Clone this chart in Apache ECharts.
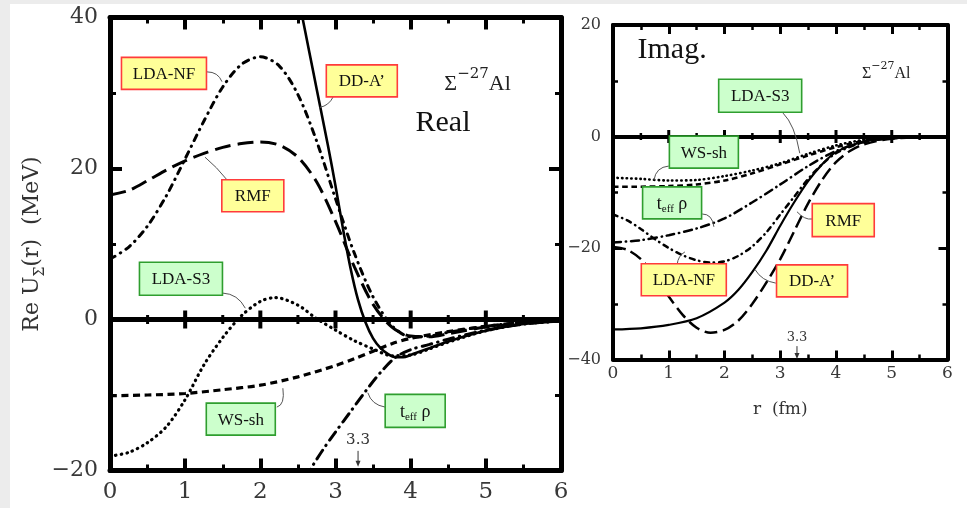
<!DOCTYPE html>
<html><head><meta charset="utf-8">
<script src="https://cdn.jsdelivr.net/npm/echarts@6/dist/echarts.min.js"></script>
<style>html,body{margin:0;padding:0;background:#fff}#c{width:967px;height:508px}</style>
</head><body><div id="c"></div>
<script>
// ---------- data ----------
const rTicks = [0, 1, 2, 3, 4, 5, 6];
const reYTicks = [-20, 0, 20, 40];
const imYTicks = [-40, -20, 0, 20];
const zeroMajor = [1, 2, 3, 4, 5];
const zeroMinor = [0.5, 1.5, 2.5, 3.5, 4.5, 5.5];

// Real part  [r (fm), Re U (MeV)]
const reLDANF = [[0,8.0],[0.25,9.6],[0.5,12.4],[0.75,16.4],[1.0,21.3],[1.25,26.3],[1.5,30.8],[1.75,33.8],[2.0,34.8],[2.25,33.6],[2.5,29.8],[2.75,23.6],[3.0,16.0],[3.25,8.8],[3.5,3.0],[3.75,-0.8],[4.0,-2.3],[4.25,-2.2],[4.5,-1.7],[5.0,-0.9],[5.5,-0.4],[6.0,-0.2]];
const reRMF = [[0,16.5],[0.25,17.1],[0.5,18.4],[0.75,19.8],[1.0,21.0],[1.25,22.0],[1.5,22.8],[1.75,23.3],[2.0,23.5],[2.25,23.1],[2.5,21.5],[2.75,18.2],[3.0,13.0],[3.25,7.0],[3.5,2.0],[3.75,-1.0],[4.0,-2.2],[4.25,-2.3],[4.5,-1.9],[5.0,-1.0],[5.5,-0.5],[6.0,-0.2]];
const reDDA = [[2.5,43.0],[2.6,38.0],[2.7,33.0],[2.8,28.0],[2.9,23.0],[3.0,17.7],[3.1,12.0],[3.2,6.8],[3.3,2.6],[3.4,-0.4],[3.5,-2.5],[3.6,-3.8],[3.7,-4.6],[3.8,-5.0],[3.9,-5.0],[4.0,-4.7],[4.25,-3.8],[4.5,-2.9],[5.0,-1.5],[5.5,-0.6],[6.0,-0.2]];
const reLDAS3 = [[0,-18.1],[0.25,-17.6],[0.5,-16.3],[0.75,-14.2],[1.0,-10.6],[1.25,-6.0],[1.5,-2.4],[1.75,0.5],[2.0,2.4],[2.2,2.9],[2.5,1.9],[2.75,0.1],[3.0,-1.4],[3.25,-2.8],[3.5,-3.9],[3.75,-4.8],[4.0,-4.7],[4.25,-3.9],[4.5,-3.0],[5.0,-1.5],[5.5,-0.6],[6.0,-0.2]];
const reWSsh = [[0,-10.1],[0.5,-10.0],[1.0,-9.8],[1.5,-9.3],[2.0,-8.7],[2.5,-7.6],[3.0,-6.1],[3.25,-5.2],[3.5,-4.2],[3.75,-3.2],[4.0,-2.5],[4.5,-1.6],[5.0,-0.9],[5.5,-0.4],[6.0,-0.2]];
const reTeff = [[2.6,-21.0],[2.7,-19.3],[2.85,-17.0],[3.0,-14.9],[3.2,-12.2],[3.4,-9.5],[3.6,-7.0],[3.8,-5.0],[4.0,-4.0],[4.25,-3.3],[4.5,-2.6],[5.0,-1.4],[5.5,-0.6],[6.0,-0.2]];

// Imaginary part  [r (fm), Im U (MeV)]
const imLDAS3 = [[0,-7.4],[0.5,-7.6],[1,-7.9],[1.5,-7.8],[2,-7.1],[2.5,-6.1],[3,-4.8],[3.5,-3.1],[4,-1.6],[4.5,-0.6],[5,-0.2],[6,0]];
const imWSsh = [[0,-9.0],[0.5,-9.0],[1,-8.9],[1.5,-8.6],[2,-7.9],[2.5,-6.6],[3,-5.0],[3.5,-3.4],[4,-1.9],[4.5,-0.8],[5,-0.3],[6,0]];
const imTeff = [[0,-19.0],[0.5,-18.6],[1,-17.7],[1.5,-16.5],[2,-14.7],[2.5,-11.8],[3,-8.6],[3.5,-5.3],[4,-2.6],[4.5,-1.0],[5,-0.3],[6,0]];
const imLDANF = [[0,-14.0],[0.25,-15.0],[0.5,-16.6],[0.75,-18.4],[1,-20.0],[1.25,-21.3],[1.5,-22.2],[1.75,-22.6],[2,-22.4],[2.25,-21.4],[2.5,-19.7],[2.75,-17.2],[3,-14.0],[3.25,-10.8],[3.5,-7.6],[3.75,-5.0],[4,-3.0],[4.5,-1.0],[5,-0.3],[6,0]];
const imDDA = [[0,-34.6],[0.5,-34.4],[1,-33.8],[1.5,-32.6],[2,-29.8],[2.25,-27.5],[2.5,-24.3],[2.75,-20.5],[3,-16.0],[3.25,-11.8],[3.5,-8.0],[3.75,-5.0],[4,-2.8],[4.5,-0.9],[5,-0.2],[6,0]];
const imRMF = [[0,-19.8],[0.25,-20.3],[0.5,-22.0],[0.75,-25.0],[1,-28.7],[1.25,-32.0],[1.5,-34.3],[1.75,-35.2],[2,-34.7],[2.25,-33.0],[2.5,-30.0],[2.75,-26.2],[3,-22.0],[3.25,-17.0],[3.5,-12.0],[3.75,-7.8],[4,-4.6],[4.25,-2.6],[4.5,-1.4],[5,-0.4],[6,0]];

// ---------- styles ----------
const TICKFONT = '"DejaVu Serif"';
const SERIF = '"Liberation Serif"';
const lineStyles = {
  LDANF: {type:[6,6,0.5,6], cap:'round'},
  RMF:   {type:[16,7], cap:'butt'},
  DDA:   {type:'solid', cap:'butt'},
  LDAS3: {type:[0.5,5.2], cap:'round'},
  WSsh:  {type:[7,4.5], cap:'butt'},
  TEFF:  {type:[10,6,0.5,6], cap:'round'}
};
function mkLine(name, data, key, gi, w, scale) {
  const st = lineStyles[key];
  let t = st.type;
  if (Array.isArray(t)) t = t.map(v => v * scale);
  return {
    name, type:'line', data, xAxisIndex: gi*2, yAxisIndex: gi*2,
    showSymbol:false, symbol:'none', smooth:0.3, clip:true, silent:true, z:3,
    lineStyle:{color:'#000', width:w, type:t, cap:st.cap}
  };
}
function zeroLine(gi, lw) {
  return {
    type:'line', xAxisIndex:gi*2, yAxisIndex:gi*2, data:[], silent:true, z:4,
    markLine:{silent:true, symbol:['none','none'], label:{show:false},
      lineStyle:{color:'#000', width:lw, type:'solid'}, data:[{yAxis:0}]}
  };
}
function axesX(gi, big) {
  const common = {
    type:'value', gridIndex:gi, min:rTicks[0], max:rTicks[rTicks.length-1],
    interval:rTicks[1]-rTicks[0], splitLine:{show:false},
    axisLine:{onZero:false, lineStyle:{color:'#000', width: big?5:4}},
    axisTick:{inside:true, length: big?12:9, lineStyle:{color:'#000', width: big?4:3}},
    minorTick:{show:true, splitNumber:2, length: big?6:5, lineStyle:{color:'#000', width: big?3:2.5}}
  };
  const bottom = Object.assign({}, common, {position:'bottom',
    axisLabel:{show:true, margin: big?10:6, color:'#383838', fontFamily:TICKFONT, fontSize: big?23:17}});
  if (!big) {
    bottom.name = 'r  (fm)'; bottom.nameLocation = 'middle'; bottom.nameGap = 42;
    bottom.nameTextStyle = {color:'#333', fontFamily:TICKFONT, fontSize:17};
  }
  const top = Object.assign({}, common, {position:'top', axisLabel:{show:false}});
  return [bottom, top];
}
function axesY(gi, ticks, big) {
  const fmt = v => v < 0 ? '\u2212' + Math.abs(v) : String(v);
  const common = {
    type:'value', gridIndex:gi, min:ticks[0], max:ticks[ticks.length-1],
    interval:ticks[1]-ticks[0], splitLine:{show:false},
    axisLine:{onZero:false, lineStyle:{color:'#000', width: big?5:4}},
    axisTick:{inside:true, length: big?12:9, lineStyle:{color:'#000', width: big?4:3}},
    minorTick:{show:true, splitNumber:2, length: big?6:5, lineStyle:{color:'#000', width: big?3:2.5}}
  };
  const left = Object.assign({}, common, {position:'left',
    axisLabel:{show:true, margin:12, color:'#383838', fontFamily:TICKFONT, fontSize: big?22:16, formatter:fmt}});
  if (big) {
    left.name = '{n|Re U}{s|\u03a3}{n|(r)  (MeV)}';
    left.nameLocation = 'middle'; left.nameGap = 48; left.nameRotate = 90;
    left.nameTextStyle = {color:'#333', rich:{
      n:{fontFamily:TICKFONT, fontSize:22, lineHeight:30, color:'#333'},
      s:{fontFamily:TICKFONT, fontSize:14, lineHeight:14, verticalAlign:'bottom', color:'#333'}}};
  }
  const right = Object.assign({}, common, {position:'right', axisLabel:{show:false}});
  return [left, right];
}

const series = [
  mkLine('LDA-NF', reLDANF, 'LDANF', 0, 3, 1),
  mkLine('RMF', reRMF, 'RMF', 0, 3, 1),
  mkLine('DD-A\u2019', reDDA, 'DDA', 0, 2.6, 1),
  mkLine('LDA-S3', reLDAS3, 'LDAS3', 0, 3.2, 1),
  mkLine('WS-sh', reWSsh, 'WSsh', 0, 3.2, 1),
  mkLine('teff rho', reTeff, 'TEFF', 0, 3, 1),
  mkLine('LDA-S3', imLDAS3, 'LDAS3', 1, 2.6, 0.8),
  mkLine('WS-sh', imWSsh, 'WSsh', 1, 2.6, 0.8),
  mkLine('teff rho', imTeff, 'TEFF', 1, 2.5, 0.8),
  mkLine('LDA-NF', imLDANF, 'LDANF', 1, 2.5, 0.8),
  mkLine('DD-A\u2019', imDDA, 'DDA', 1, 2.2, 1),
  mkLine('RMF', imRMF, 'RMF', 1, 2.5, 0.8),
  zeroLine(0, 5),
  zeroLine(1, 4)
];

const option = {
  backgroundColor:'#fff',
  animation:false,
  grid:[
    {left:110, top:17.5, width:451, height:453},
    {left:613, top:25, width:334.5, height:334.5}
  ],
  xAxis: axesX(0, true).concat(axesX(1, false)),
  yAxis: axesY(0, reYTicks, true).concat(axesY(1, imYTicks, false)),
  series
};

const chart = echarts.init(document.getElementById('c'));
chart.setOption(option);

// ---------- annotations (placed in data coordinates) ----------
const YEL = {fill:'#ffff99', stroke:'#ff3b3b'};
const GRN = {fill:'#ccffcc', stroke:'#2f9e2f'};
const annotations = [
  {si:0, t:'LDA-NF', c:YEL, at:[0.718,32.6], w:85, h:32, l:[[1.29,32.8],[1.437,32.8],[1.49,31.5]]},
  {si:0, t:'DD-A\u2019', c:YEL, at:[3.35,31.6], w:71, h:32, l:[[2.97,29.5],[2.91,28.3],[2.79,28.1]]},
  {si:0, t:'RMF', c:YEL, at:[1.90,16.4], w:62, h:32, l:[[1.556,18.5],[1.42,20.2],[1.264,21.5]]},
  {si:0, t:'LDA-S3', c:GRN, at:[0.944,5.4], w:83, h:33, l:[[1.50,3.5],[1.70,3.4],[1.80,1.5]]},
  {si:0, t:'WS-sh', c:GRN, at:[1.74,-13.2], w:69, h:32, l:[[2.22,-11.6],[2.33,-11.3],[2.30,-9.1]]},
  {si:0, t:'teff', c:GRN, at:[4.06,-12.1], w:60, h:33, l:[[3.66,-11.6],[3.48,-11.3],[3.43,-9.7]]},
  {si:6, t:'LDA-S3', c:GRN, at:[2.64,7.3], w:83, h:33, l:[[3.05,4.2],[3.26,2.1],[3.35,-3.0]]},
  {si:6, t:'WS-sh', c:GRN, at:[1.63,-2.8], w:69, h:32, l:[[1.00,-5.3],[0.77,-5.5],[0.735,-7.8]]},
  {si:6, t:'teff', c:GRN, at:[1.06,-11.9], w:59, h:32, l:[[1.60,-13.9],[1.78,-13.9],[1.81,-16.2]]},
  {si:6, t:'RMF', c:YEL, at:[4.13,-15.0], w:62, h:33, l:[[3.57,-14.8],[3.44,-15.0],[3.30,-13.5]]},
  {si:6, t:'LDA-NF', c:YEL, at:[1.27,-25.7], w:85, h:32, l:[[1.15,-23.0],[1.166,-21.4],[1.29,-20.7]]},
  {si:6, t:'DD-A\u2019', c:YEL, at:[3.57,-25.9], w:71, h:32, l:[[2.92,-26.3],[2.67,-25.9],[2.55,-23.9]]}
];
const arrows = [
  {si:0, at:[3.3,-16.0], from:[3.3,-17.4], to:[3.3,-19.5], fs:15},
  {si:6, at:[3.3,-36.0], from:[3.3,-37.6], to:[3.3,-39.9], fs:13}
];
const titles = [
  {si:0, at:[4.43,26.0], text:'Real', fs:30},
  {si:6, at:[1.06,15.5], text:'Imag.', fs:30}
];
const sigmas = [
  {si:0, at:[4.89,31.6], a:22, s:15},
  {si:6, at:[4.9,11.7], a:16, s:11}
];
const zeroTickStyle = [
  {si:0, mw:4, mh:18, nw:3, nh:9},
  {si:6, mw:3, mh:13, nw:2.5, nh:7}
];

const P = (si, pt) => chart.convertToPixel({seriesIndex:si}, pt);
const g = [
  {type:'rect', shape:{x:0, y:0, width:10, height:508}, style:{fill:'#ececec'}, z:0, silent:true},
  {type:'rect', shape:{x:0, y:0, width:967, height:4}, style:{fill:'#ececec'}, z:0, silent:true}
];
zeroTickStyle.forEach(zs => {
  zeroMajor.forEach(r => {
    const p = P(zs.si, [r, 0]);
    g.push({type:'rect', z:15, silent:true, shape:{x:p[0]-zs.mw/2, y:p[1]-zs.mh/2, width:zs.mw, height:zs.mh}, style:{fill:'#000'}});
  });
  zeroMinor.forEach(r => {
    const p = P(zs.si, [r, 0]);
    g.push({type:'rect', z:15, silent:true, shape:{x:p[0]-zs.nw/2, y:p[1]-zs.nh/2, width:zs.nw, height:zs.nh}, style:{fill:'#000'}});
  });
});
annotations.forEach(a => {
  const c = P(a.si, a.at), p1 = P(a.si, a.l[0]), cp = P(a.si, a.l[1]), p2 = P(a.si, a.l[2]);
  g.push({type:'bezierCurve', z:20, silent:true,
    shape:{x1:p1[0], y1:p1[1], cpx1:cp[0], cpy1:cp[1], x2:p2[0], y2:p2[1]},
    style:{stroke:'#555', lineWidth:1, fill:null}});
  g.push({type:'rect', z:21, silent:true,
    shape:{x:c[0]-a.w/2, y:c[1]-a.h/2, width:a.w, height:a.h},
    style:{fill:a.c.fill, stroke:a.c.stroke, lineWidth:1.6}});
  const style = a.t === 'teff'
    ? {text:'{n|t}{s|eff}{n| \u03c1}', x:0, y:0, align:'center', verticalAlign:'middle',
       rich:{n:{font:'18px ' + SERIF, lineHeight:22, fill:'#111'},
             s:{font:'11px ' + SERIF, lineHeight:11, verticalAlign:'bottom', fill:'#111'}}}
    : {text:a.t, font:'17px ' + SERIF, fill:'#111', align:'center', verticalAlign:'middle'};
  g.push({type:'text', z:22, silent:true, x:c[0], y:c[1]+1, style});
});
arrows.forEach(a => {
  const c = P(a.si, a.at), p1 = P(a.si, a.from), p2 = P(a.si, a.to);
  g.push({type:'text', z:22, silent:true, x:c[0], y:c[1],
    style:{text:'3.3', font:a.fs + 'px ' + TICKFONT, fill:'#333', align:'center', verticalAlign:'middle'}});
  g.push({type:'line', z:22, silent:true, shape:{x1:p1[0], y1:p1[1], x2:p2[0], y2:p2[1]-3},
    style:{stroke:'#333', lineWidth:1}});
  g.push({type:'polygon', z:22, silent:true,
    shape:{points:[[p2[0]-2.5, p2[1]-6], [p2[0]+2.5, p2[1]-6], [p2[0], p2[1]]]},
    style:{fill:'#333'}});
});
titles.forEach(t => {
  const c = P(t.si, t.at);
  g.push({type:'text', z:22, silent:true, x:c[0], y:c[1],
    style:{text:t.text, font:t.fs + 'px ' + SERIF, fill:'#111', align:'center', verticalAlign:'middle'}});
});
sigmas.forEach(s => {
  const c = P(s.si, s.at);
  g.push({type:'text', z:22, silent:true, x:c[0], y:c[1],
    style:{text:'{a|\u03a3}{s|\u221227}{a|Al}', align:'center', verticalAlign:'middle',
      rich:{a:{font:s.a + 'px ' + SERIF, lineHeight:Math.round(s.a*1.3), verticalAlign:'bottom', fill:'#222'},
            s:{font:s.s + 'px ' + TICKFONT, lineHeight:s.s, verticalAlign:'top', fill:'#222'}}}});
});
chart.setOption({graphic:g});
</script>
</body></html>
